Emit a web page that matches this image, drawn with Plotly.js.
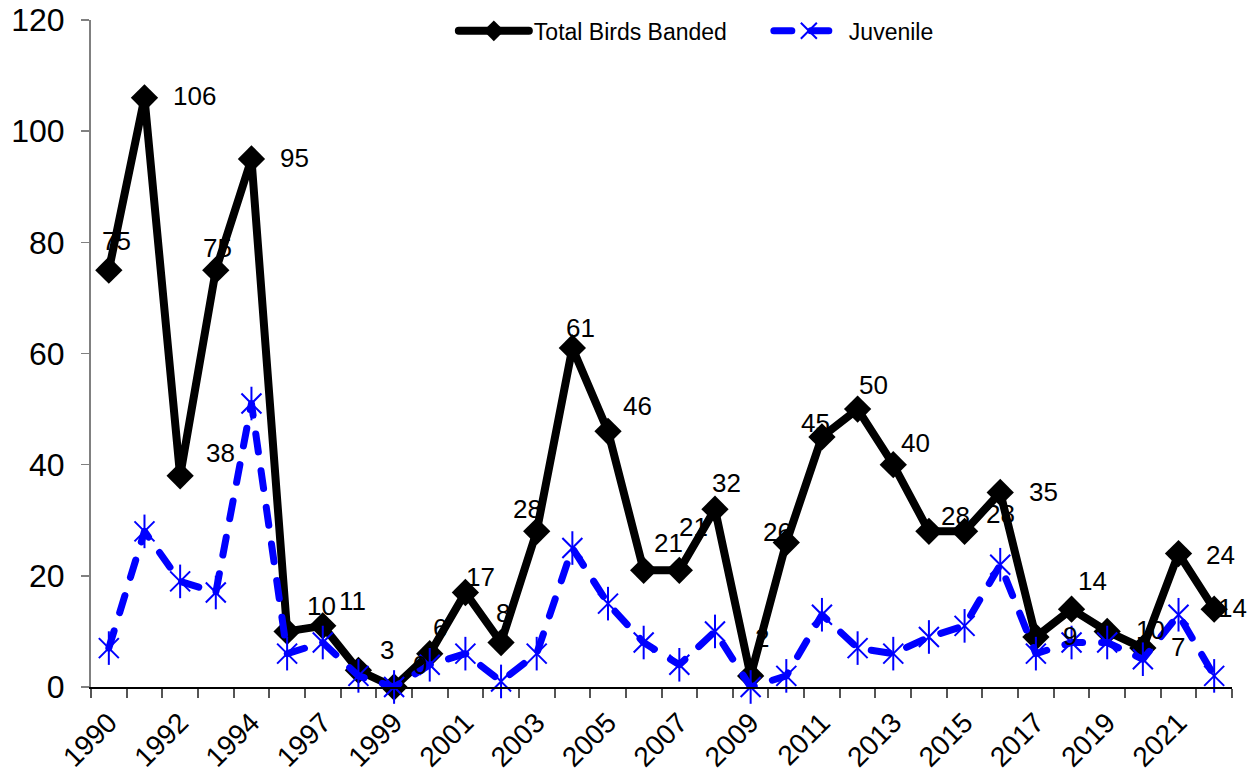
<!DOCTYPE html>
<html>
<head>
<meta charset="utf-8">
<script src="https://cdn.plot.ly/plotly-3.0.1.min.js"></script>
<style>
  html, body { margin: 0; padding: 0; background: #fff; }
  #chart { width: 1252px; height: 780px; }
  .scatterlayer path.js-line { stroke-linecap: round; stroke-linejoin: round; }
  .legend path.js-line { stroke-linecap: round; }
</style>
</head>
<body>
<div id="chart"></div>
<script>
// ---- data ----
const years = ["1990","1991","1992","1993","1994","1995","1997","1998","1999","2000",
               "2001","2002","2003","2004","2005","2006","2007","2008","2009","2010",
               "2011","2012","2013","2014","2015","2016","2017","2018","2019","2020",
               "2021","2022"];
const totalBanded = [75,106,38,75,95,10,11,3,0,6,
                     17,8,28,61,46,21,21,32,2,26,
                     45,50,40,28,28,35,9,14,10,7,
                     24,14];
const juvenile = [7,28,19,17,51,6,8,2,0,4,
                  6,1,6,25,15,8,4,10,0,2,
                  13,7,6,9,11,22,6,8,8,5,
                  13,2];
// tick labels: every other year shown
const tickLabels = years.map((y, i) => (i % 2 === 0 ? y : ""));

// ---- styling (label offsets in px: [dx, dy], dy down) ----
const labelOffsets = [[8,-27],[50,0],[40,-21],[2,-20],[43,1],[34,-23],[30,-23],[29,-18],[26,-20],[10,-24],
                      [15,-14],[2,-28],[-9,-20],[8,-18],[29,-23],[25,-25],[14,-41],[12,-24],[11,-36],[-9,-8],
                      [-6,-12],[16,-22],[22,-20],[27,-13],[36,-15],[43,2],[34,1],[21,-26],[43,1],[35,1],
                      [42,3],[18,1]];
const FONT = "Liberation Sans, Arial, Helvetica, sans-serif";

const traces = [
  {
    name: "Total Birds Banded",
    x: years, y: totalBanded,
    type: "scatter", mode: "lines+markers",
    line: { color: "#000000", width: 8 },
    marker: { symbol: "diamond", size: 21, color: "#000000" },
    cliponaxis: false
  },
  {
    name: "Juvenile",
    x: years, y: juvenile,
    type: "scatter", mode: "lines+markers",
    line: { color: "#0000FF", width: 7, dash: "18px,19px" },
    marker: { symbol: "x-thin-open", size: 20, color: "#0000FF", line: { color: "#0000FF", width: 2 } },
    cliponaxis: false
  },
  {
    name: "Juvenile",
    x: years, y: juvenile,
    type: "scatter", mode: "markers",
    showlegend: false,
    marker: { symbol: "line-ns-open", size: 24, color: "#0000FF", line: { color: "#0000FF", width: 2 } },
    cliponaxis: false
  }
];

const annotations = years.map((yr, i) => ({
  x: i, y: totalBanded[i], xref: "x", yref: "y",
  text: String(totalBanded[i]),
  showarrow: false,
  xanchor: "center", yanchor: "middle",
  xshift: labelOffsets[i][0], yshift: -labelOffsets[i][1] + 2,
  font: { family: FONT, size: 26, color: "#000000" }
}));

const layout = {
  width: 1252, height: 780,
  margin: { l: 91, r: 20, t: 20, b: 93, autoexpand: false },
  paper_bgcolor: "#ffffff", plot_bgcolor: "#ffffff",
  font: { family: FONT, color: "#000000" },
  showlegend: true,
  legend: {
    orientation: "h", x: 0.318, xanchor: "left", y: 1.016, yanchor: "top",
    font: { family: FONT, size: 23, color: "#000000" },
    bgcolor: "rgba(0,0,0,0)", itemwidth: 70,
    entrywidth: 230, entrywidthmode: "pixels"
  },
  xaxis: {
    type: "category",
    categoryorder: "array", categoryarray: years,
    tickvals: years, ticktext: tickLabels,
    tickson: "boundaries",
    ticks: "outside", ticklen: 9, tickwidth: 2, tickcolor: "#555555",
    tickangle: -45, ticklabelstandoff: 6,
    tickfont: { family: FONT, size: 28, color: "#000000" },
    showline: true, linecolor: "#000000", linewidth: 2,
    showgrid: false, zeroline: false, automargin: false,
    range: [-0.5, years.length - 0.5]
  },
  yaxis: {
    range: [0, 120], dtick: 20, tick0: 0,
    ticks: "outside", ticklen: 8, tickwidth: 1.5, tickcolor: "#808080",
    ticklabelstandoff: 10,
    tickfont: { family: FONT, size: 32, color: "#000000" },
    showline: true, linecolor: "#808080", linewidth: 2,
    showgrid: false, zeroline: false, automargin: false
  },
  annotations: annotations
};

Plotly.newPlot("chart", traces, layout, { displayModeBar: false, staticPlot: true });
</script>
</body>
</html>
